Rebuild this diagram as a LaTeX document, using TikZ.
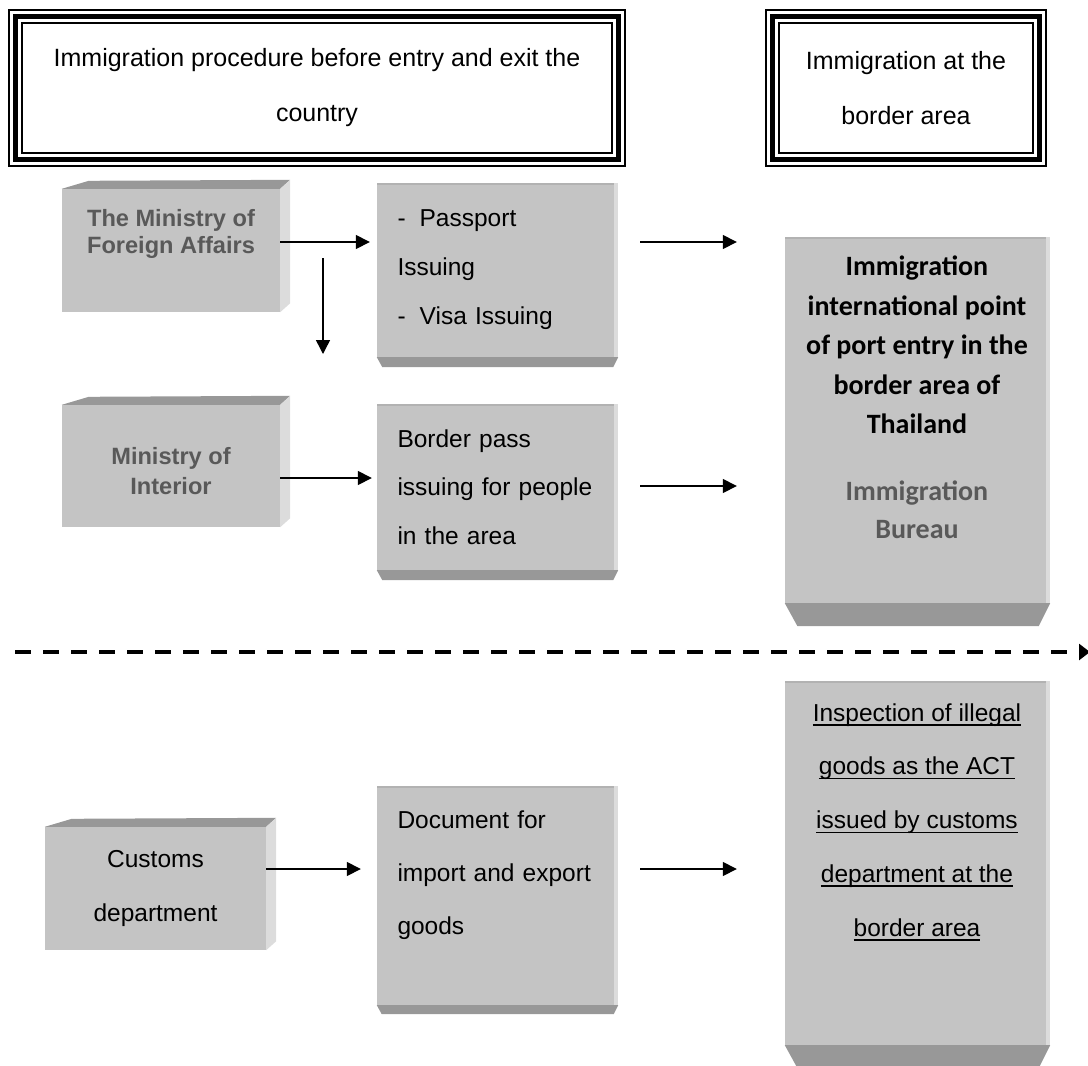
\documentclass[tikz,border=0pt]{standalone}
\usepackage{fontspec}
\setmainfont{Liberation Sans}
\newfontfamily\calibfont{Carlito}
\usetikzlibrary{arrows.meta}

\definecolor{facegray}{HTML}{C4C4C4}
\definecolor{lidgray}{HTML}{989898}
\definecolor{sidegray}{HTML}{DCDCDC}
\definecolor{rimgray}{HTML}{B2B2B2}
\definecolor{textgray}{HTML}{595959}

\newsavebox\ulbox
\newcommand{\uln}[1]{\sbox\ulbox{#1}\rlap{\rule[-4.5pt]{\wd\ulbox}{1.5pt}}\usebox\ulbox}

\tikzset{
  titlebox/.style={inner sep=0, align=center, font=\fontsize{25}{55}\selectfont},
  leftbox/.style={fill=facegray, inner sep=0, minimum width=218, align=center,
    font=\bfseries\fontsize{23.6}{30}\selectfont, text=textgray},
  midbox/.style={fill=facegray, inner sep=0, minimum width=241, text width=200,
    align=left},
  bigbox/.style={fill=facegray, inner sep=0, minimum width=265},
  arr/.style={line width=1.5, -{Triangle[length=14pt,width=14pt]}},
  dashline/.style={line width=4, dash pattern=on 16pt off 12pt,
    -{Triangle[length=11pt,width=16pt]}}
}

% triple frame round a title
\newcommand{\tripleframe}[1]{%
  \draw[line width=2] (#1.north west) rectangle (#1.south east);
  \draw[line width=5] ([shift={(7,7)}]#1.north west) rectangle ([shift={(-7,-7)}]#1.south east);
  \draw[line width=2] ([shift={(13,13)}]#1.north west) rectangle ([shift={(-13,-13)}]#1.south east);}
% top and right faces of a raised box
\newcommand{\lidbevel}[1]{%
  \fill[lidgray] (#1.north west) -- ([shift={(27,-8)}]#1.north west) -- ([shift={(10,-9)}]#1.north east) -- (#1.north east) -- cycle;
  \fill[sidegray] (#1.north east) -- ([shift={(10,-9)}]#1.north east) -- ([shift={(10,-9)}]#1.south east) -- (#1.south east) -- cycle;}
% bottom face of a box, #2 = its depth
\newcommand{\footbevel}[2]{%
  \fill[rimgray] (#1.north west) rectangle ([shift={(0,2)}]#1.north east);
  \fill[sidegray] ([xshift=-4pt]#1.north east) rectangle (#1.south east);
  \fill[lidgray] (#1.south west) -- (#1.south east) -- ([shift={(-#2*0.5,#2)}]#1.south east) -- ([shift={(#2*0.55,#2)}]#1.south west) -- cycle;}

\begin{document}
\begin{tikzpicture}[x=1pt,y=-1pt]
\useasboundingbox (0,0) rectangle (1088,1066);

% titles
\node[titlebox, minimum width=616, minimum height=156] (head1) at (317,88) {Immigration procedure before entry and exit the\\country};
\node[titlebox, minimum width=280, minimum height=156] (head2) at (906,88) {Immigration at the\\border area};
\tripleframe{head1}
\tripleframe{head2}

% ministries
\node[leftbox, minimum height=123] (fa) at (171,250.5) {};
\lidbevel{fa}
\node[font=\bfseries\fontsize{23.6}{27}\selectfont, text=textgray, align=center] (fatxt) at ([yshift=17pt]fa.center) {The Ministry of\\Foreign Affairs};
\node[leftbox, minimum height=122] (mi) at (171,466) {};
\lidbevel{mi}
\node[font=\bfseries\fontsize{23.6}{30}\selectfont, text=textgray, align=center] (mitxt) at ([yshift=-5pt]mi.center) {Ministry of\\Interior};
\node[leftbox, minimum width=221, minimum height=123, font=\fontsize{24.5}{54}\selectfont, text=black] (cu) at (155.5,888.5) {Customs\\department};
\lidbevel{cu}

% documents
\node[midbox, minimum height=174, font=\fontsize{24.5}{49}\selectfont] (pp) at (497.5,270) {-\hspace{14pt}Passport\\Issuing\\-\hspace{14pt}Visa Issuing};
\footbevel{pp}{10}
\node[midbox, minimum height=166, font=\fontsize{24.5}{48.5}\selectfont] (bp) at (497.5,487) {Border pass\\issuing for people\\in the area};
\footbevel{bp}{10}
\node[midbox, minimum height=219] (dc) at (497.5,895.5) {};
\footbevel{dc}{9}
\node[midbox, fill=none, font=\fontsize{24.5}{53}\selectfont] (dctxt) at ([yshift=20.5pt]dc.center) {Document for\\import and export\\goods};

% border posts
\node[bigbox, minimum height=366] (big) at (917.5,420) {};
\footbevel{big}{23}
\node[font=\calibfont\bfseries\fontsize{28}{39.5}\selectfont, align=center] (bigtxt) at (917,345) {Immigration\\international point\\of port entry in the\\border area of\\Thailand};
\node[font=\calibfont\bfseries\fontsize{28}{38}\selectfont, align=center, text=textgray] (bureau) at (917,510) {Immigration\\Bureau};
\node[bigbox, minimum height=364] (insp) at (917.5,863) {};
\footbevel{insp}{21}
\node[font=\fontsize{24.5}{53.75}\selectfont, align=center] (insptxt) at (917,822) {\uln{Inspection of illegal}\\\uln{goods as the ACT}\\\uln{issued by customs}\\\uln{department at the}\\\uln{border area}};

% arrows
\coordinate (rowA) at (0,242);
\coordinate (rowB) at (0,478);
\coordinate (rowC) at (0,486);
\coordinate (rowD) at (0,869);
\coordinate (dropA) at (323,258);
\coordinate (dropB) at (323,354);
\draw[arr, shorten >=7pt] (fa.east |- rowA) -- (pp.west |- rowA);
\draw[arr, shorten <=22pt, shorten >=48pt] (pp.east |- rowA) -- (big.west |- rowA);
\draw[arr] (dropA) -- (dropB);
\draw[arr, shorten >=5pt] (mi.east |- rowB) -- (bp.west |- rowB);
\draw[arr, shorten <=22pt, shorten >=48pt] (bp.east |- rowC) -- (big.west |- rowC);
\draw[arr, shorten >=16pt] (cu.east |- rowD) -- (dc.west |- rowD);
\draw[arr, shorten <=22pt, shorten >=48pt] (dc.east |- rowD) -- (insp.west |- rowD);

% split line
\coordinate (splitL) at (15,652);
\coordinate (splitR) at (1090,652);
\draw[dashline] (splitL) -- (splitR);
\end{tikzpicture}
\end{document}
